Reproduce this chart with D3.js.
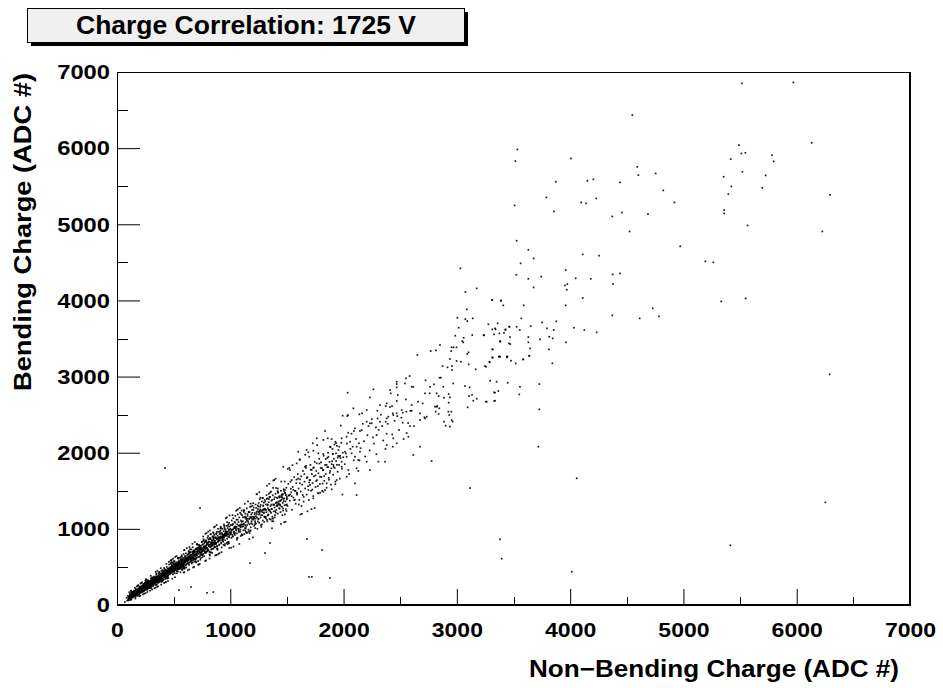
<!DOCTYPE html>
<html><head><meta charset="utf-8">
<script src="https://cdn.jsdelivr.net/npm/d3@7"></script>
<style>body{margin:0;background:#fff}svg{display:block}text{font-family:"Liberation Sans",Arial,Helvetica,sans-serif;font-weight:bold}</style>
</head><body>
<script>
const chartTitle = "Charge Correlation: 1725 V";
const xTitle = "Non\u2212Bending Charge (ADC #)";
const yTitle = "Bending Charge (ADC #)";
const xDomain = [0, 7000];
const yDomain = [0, 7000];
const majorTicks = [0,1000,2000,3000,4000,5000,6000,7000];
const minorTicks = [500,1500,2500,3500,4500,5500,6500];

// Dense core of the correlation (ADC x, ADC y)
const coreBand = [[70,40],[85,95],[90,60],[95,120],[100,80],[105,110],[110,90],[112,140],[118,70],[120,115],[125,130],[128,95],[130,160],[134,110],[136,140],[140,100],[142,125],[145,170],[148,135],[150,115],[152,150],[155,180],[158,130],[160,160],[162,105],[165,145],[167,190],[170,160],[172,130],[174,175],[176,150],[178,200],[180,120],[182,170],[184,145],[186,210],[188,165],[190,185],[192,140],[194,200],[196,170],[198,225],[200,155],[200,190],
[203,210],[205,175],[207,240],[209,195],[211,160],[213,220],[215,185],[217,250],[219,205],[221,170],[223,230],[225,200],[227,260],[229,215],[231,180],[233,245],[235,210],[237,275],[239,225],[241,190],[243,250],[245,220],[247,285],[249,235],[251,200],[253,265],[255,240],[257,210],[259,290],[261,250],[263,225],[265,270],[267,300],[269,245],[271,215],[273,280],[275,255],[277,310],[279,235],[281,270],[283,295],[285,250],[287,225],[289,305],[291,265],[293,285],[295,240],[297,320],[299,275],[301,300],[303,255],[305,330],[307,285],[309,310],[311,260],[313,295],[315,340],[317,275],[319,320],[321,290],[323,350],[325,265],[327,310],[329,335],[331,285],[333,360],[335,300],[337,325],[339,280],[341,350],[343,310],[345,370],[347,295],[349,335],[351,355],[353,305],[355,380],[357,320],[359,345],[361,290],[363,365],[365,330],[367,390],[369,310],[371,350],[373,375],[375,325],[377,400],[379,345],[381,365],[383,315],[385,385],[387,350],[389,410],[391,335],[393,370],[395,395],[397,340],[399,420],
[210,230],[236,190],[262,280],[288,270],[314,305],[340,330],[366,355],[392,380],[224,245],[250,260],[276,240],[302,320],[328,295],[354,340],[380,420],[246,200],[272,295],[298,260],[324,335],[350,315],[376,360],[398,375],[230,205],[256,270],[282,255],[308,340],[334,315],[360,375],[386,340],
[401,380],[404,350],[406,430],[408,395],[411,360],[413,415],[416,385],[418,445],[421,400],[423,365],[426,430],[428,410],[431,460],[433,390],[436,420],[438,375],[441,450],[443,415],[446,475],[448,400],[451,435],[453,385],[456,465],[458,420],[461,490],[463,445],[466,410],[468,470],[471,435],[473,500],[476,455],[478,420],[481,480],[483,445],[486,515],[488,460],[491,425],[493,490],[496,470],[498,530],[501,455],[503,500],[506,435],[508,480],[511,540],[513,495],[516,460],[518,515],[521,475],[523,550],[526,505],[528,445],[531,525],[533,490],[536,560],[538,510],[541,470],[543,535],[546,500],[548,570],[551,520],[553,480],[556,545],[558,505],[561,585],[563,530],[566,490],[568,555],[571,520],[573,595],[576,540],[578,500],[581,565],[583,530],[586,610],[588,550],[591,510],[593,575],[596,540],[598,620],
[410,420],[430,395],[450,455],[470,410],[490,505],[510,470],[530,560],[550,490],[570,580],[590,545],[420,375],[440,440],[460,460],[480,500],[500,490],[520,530],[540,520],[560,550],[580,590],[600,575],[415,440],[445,395],[475,480],[505,520],[535,480],[565,600],[595,560],[425,455],[455,400],[485,470],[515,500],[545,555],[575,525]];

const coreDense = [[120,70],[124,74],[128,78],[132,130],[136,139],[140,165],[144,111],[148,127],[152,164],[156,121],[160,153],[164,162],[168,145],[172,175],[176,163],[180,178],[184,186],[188,129],[192,218],[196,171],[200,213],[204,217],[208,235],[212,209],[216,230],[220,233],[224,183],[228,212],[232,222],[236,208],[240,254],[244,240],[248,262],[252,265],[256,285],[260,314],[264,265],[268,198],[272,326],[276,230],[280,294],[284,265],[288,289],[292,273],[296,310],[300,251],[304,318],[308,339],[312,327],[316,283],[320,269],[324,311],[328,328],[332,364],[336,322],[340,326],[344,262],[348,410],[352,269],[356,301],[360,323],[364,327],[368,353],[372,435],[376,369],[380,358],[384,368],[388,365],[392,304],[396,337],[400,384],[404,404],[408,400],[412,396],[416,485],[420,411],[424,460],[428,419],[432,407],[436,452],[440,377],[444,348],[448,439],[452,355],[456,472],[460,532],[464,420],[468,424],[472,488],[476,550],[480,479],[484,522],[488,561],[492,446],[496,486],[500,539],[504,579],[508,462],[512,484],[516,506],[520,499],[524,475],[528,418],[532,460],[536,615],[540,619],[544,533],[548,546],[552,478],[556,480],[560,509],[564,488],[568,517],[572,653],[576,459],[580,528],[584,506],[588,670],[592,589],[596,476],[600,643],[604,601],[608,585],[612,492],[616,582],[620,596],[624,600],[628,546],[632,676],[636,553],[640,626],[644,732],[648,693],[652,568],[656,620],[660,657],[664,606],[668,758],[672,691],[676,695],[680,654],[684,702],[688,706],[692,604],[696,658],[700,565],[704,797],[708,801],[712,708],[716,578],[720,704],[724,632],[728,776],[732,751],[736,595],[740,760],[744,680],[748,655],[752,658],[756,715],[760,731],[764,862],[768,763],[772,706],[776,827],[780,763],[784,686],[788,838],[792,749],[796,816],[800,732],[804,906],[808,828],[812,864],[816,663],[820,789],[824,928],[828,932],[832,813],[836,732],[840,684],[844,826],[848,954],[852,872],[856,810],[860,754],[864,885],[868,822],[872,799],[876,932],[880,772],[884,877],[888,725],[892,1001],[896,890],[900,852],[904,794],[908,964],[912,892],[916,1029],[920,899],[924,756],[928,851],[932,897],[936,901],[940,919],[944,1059],[948,913],[952,930],[956,934],[960,909],[964,928],[968,961],[972,1088],[976,799],[980,1040],[984,932],[988,810],[992,910],[996,989]];

const coreSpread = [[100,60],[102,96],[104,64],[106,106],[108,168],[110,85],[112,119],[114,114],[116,103],[118,117],[120,155],[122,184],[124,143],[126,188],[128,114],[130,103],[132,118],[134,170],[136,129],[138,144],[140,112],[142,148],[144,137],[146,132],[148,134],[150,189],[152,136],[154,124],[156,176],[158,225],[160,159],[162,85],[164,134],[166,205],[168,207],[170,161],[172,123],[174,243],[176,197],[178,129],[180,186],[182,253],[184,167],[186,256],[188,258],[190,172],[192,213],[194,192],[196,144],[198,115],[200,198],[202,243],[204,170],[206,121],[208,282],[210,232],[212,202],[214,289],[216,206],[218,207],[220,217],[222,297],[224,188],[226,207],[228,139],[230,252],[232,275],[234,177],[236,242],[238,227],[240,147],[242,248],[244,207],[246,291],[248,254],[250,212],[252,156],[254,299],[256,336],[258,338],[260,305],[262,267],[264,225],[266,311],[268,171],[270,248],[272,259],[274,321],[276,236],[278,275],[280,258],[282,269],[284,242],[286,221],[288,223],[290,314],[292,189],[294,299],[296,320],[298,383],[300,349],[302,259],[304,237],[306,292],[308,357],[310,203],[312,362],[314,320],[316,312],[318,249],[320,295],[322,277],[324,373],[326,281],[328,303],[330,219],[332,337],[334,339],[336,321],[338,363],[340,227],[342,435],[344,319],[346,398],[348,333],[350,335],[352,357],[354,238],[356,450],[358,352],[360,354],[362,245],[364,358],[366,419],[368,320],[370,321],[372,345],[374,298],[376,403],[378,329],[380,374],[382,355],[384,378],[386,484],[388,371],[390,267],[392,447],[394,315],[396,345],[398,453],
[400,382],[402,458],[404,324],[406,326],[408,328],[410,438],[412,394],[414,408],[416,289],[418,365],[420,477],[422,403],[424,341],[426,297],[428,374],[430,458],[432,301],[434,350],[436,541],[438,407],[440,499],[442,435],[444,389],[446,361],[448,363],[450,315],[452,444],[454,446],[456,448],[458,566],[460,464],[462,442],[464,444],[466,470],[468,411],[470,412],[472,583],[474,454],[476,537],[478,589],[480,472],[482,462],[484,596],[486,452],[488,346],[490,456],[492,554],[494,402],[496,609],[498,502],[500,478],[502,480],[504,444],[506,569],[508,571],[510,416],[512,365],[514,631],[516,547],[518,509],[520,524],[522,526],[524,515],[526,643],[528,492],[530,494],[532,509],[534,511],[536,540],[538,441],[540,476],[542,608],[544,521],[546,578],[548,539],[550,555],[552,528],[554,620],[556,490],[558,520],[560,522],[562,594],[564,631],[566,570],[568,600],[570,638],[572,534],[574,472],[576,580],[578,568],[580,513],[582,615],[584,480],[586,518],[588,426],[590,485],[592,719],[594,431],[596,723],[598,493],[600,575],[602,591],[604,608],[606,581],[608,678],[610,599],[612,616],[614,618],[616,747],[618,547],[620,579],[622,596],[624,628],[626,457],[628,587],[630,603],[632,704],[634,638],[636,526],[638,467],[640,613],[642,631],[644,617],[646,604],[648,575],[650,654],[652,655],[654,626],[656,730],[658,583],[660,546],[662,618],[664,620],[666,803],[668,624],[670,674],[672,493],[674,710],[676,600],[678,682],[680,499],[682,606],[684,655],[686,826],[688,570],[690,661],[692,574],[694,616],[696,732],[698,653],
[700,736],[703,625],[706,677],[709,696],[712,790],[715,752],[718,529],[721,532],[724,727],[727,730],[730,539],[733,736],[736,689],[739,616],[742,728],[745,732],[748,829],[751,831],[754,628],[757,794],[760,728],[763,844],[766,847],[769,642],[772,758],[775,690],[778,578],[781,935],[784,698],[787,586],[790,945],[793,796],[796,709],[799,882],[802,715],[805,963],[808,720],[811,796],[814,781],[817,610],[820,979],[823,688],[826,865],[829,694],[832,816],[835,782],[838,841],[841,807],[844,791],[847,850],[850,891],[853,941],[856,1020],[859,767],[862,846],[865,1031],[868,650],[871,816],[874,877],[877,659],[880,659],[883,740],[886,742],[889,833],[892,836],[895,671],[898,881],[901,844],[904,680],[907,890],[910,873],[913,1006],[916,1009],[919,821],[922,694],[925,887],[928,930],[931,933],[934,916],[937,838],[940,789],[943,884],[946,1041],[949,911],[952,800],[955,916],[958,960],[961,1139],[964,945],[967,814],[970,1151],[973,934],[976,821],[979,960],[982,827],[985,828],[988,990],[991,749],[994,1176],[997,956]];

const innerBand = [[602,560],[605,640],[608,590],[611,530],[614,610],[617,575],[620,655],[623,600],[626,545],[629,630],[632,585],[635,670],[638,610],[641,560],[644,645],[647,600],[650,690],[653,625],[656,570],[659,660],[662,615],[665,700],[668,640],[671,585],[674,675],[677,630],[680,720],[683,655],[686,600],[689,690],[692,640],[695,735],[698,670],[701,615],[704,705],[707,655],[710,750],[713,685],[716,630],[719,720],[722,670],[725,765],[728,700],[731,640],[734,735],[737,685],[740,780],[743,715],[746,655],[749,750],[752,700],[755,795],[758,730],[761,670],[764,765],[767,715],[770,810],[773,745],[776,685],[779,780],[782,730],[785,825],[788,760],[791,700],[794,795],[797,745],
[610,600],[640,690],[670,560],[700,740],[730,690],[760,720],[790,780],[620,570],[650,640],[680,610],[710,680],[740,660],[770,770],[625,665],[655,595],[685,700],[715,730],[745,700],[775,740],[605,520],[635,705],[665,620],[695,600],[725,790],[755,660],[785,850],
[801,800],[804,720],[808,860],[811,770],[815,700],[818,830],[822,760],[825,880],[829,800],[832,730],[836,850],[839,780],[843,900],[846,820],[850,740],[853,870],[857,790],[860,920],[864,840],[867,760],[871,890],[874,810],[878,940],[881,860],[885,775],[888,910],[892,830],[895,960],[899,880],[902,790],[906,930],[909,850],[913,980],[916,900],[920,810],[923,950],[927,870],[930,1000],[934,920],[937,830],[941,970],[944,890],[948,1020],[951,940],[955,850],[958,990],[962,910],[965,1040],[969,960],[972,870],[976,1010],[979,930],[983,1060],[986,980],[990,890],[993,1030],[997,950],
[810,830],[830,770],[850,900],[870,820],[890,870],[910,940],[930,880],[950,1000],[970,920],[990,1080],[820,880],[840,740],[860,810],[880,960],[900,850],[920,1010],[940,860],[960,970],[980,900],[1000,1000],
[820,650],[760,900],[700,560],[880,1050],[950,780],[640,760],[560,430],[480,560],[400,310],[300,220],[250,320]];

const midDense = [[1010,962],[1018,924],[1026,993],[1034,938],[1042,945],[1050,984],[1058,857],[1066,1120],[1074,974],[1082,1047],[1090,1021],[1098,1029],[1106,1054],[1114,1061],[1122,1247],[1130,981],[1138,1153],[1146,1109],[1154,1134],[1162,1223],[1170,945],[1178,1158],[1186,1076],[1194,1210],[1202,1338],[1210,1134],[1218,1057],[1226,1168],[1234,1195],[1242,1307],[1250,1133],[1258,1237],[1266,1410],[1274,1025],[1282,1221],[1290,1308],[1298,1216],[1306,1264],[1314,1139],[1322,1393],[1330,1308],[1338,1253],[1346,1417],[1354,1226],[1362,1319],[1370,1100],[1378,1538],[1386,1320],[1394,1414],[1402,1214],[1410,1343],[1418,1495],[1426,1336],[1434,1411],[1442,1305],[1450,1621],[1458,1411],[1466,1268],[1474,1496],[1482,1189],[1490,1442]];

const midBand = [[1003,1050],[1006,940],[1010,880],[1013,1110],[1017,990],[1020,1060],[1024,900],[1027,1140],[1031,1010],[1034,960],[1038,1090],[1041,920],[1045,1170],[1048,1030],[1052,980],[1055,1120],[1059,940],[1062,1060],[1066,1190],[1069,1000],[1073,1090],[1076,960],[1080,1150],[1083,1040],[1087,1210],[1090,990],[1094,1110],[1097,1060],[1101,930],[1104,1180],[1108,1030],[1111,1100],[1115,980],[1118,1240],[1122,1070],[1125,1150],[1129,1010],[1132,1200],[1136,1090],[1139,960],[1143,1130],[1146,1270],[1150,1050],[1153,1170],[1157,1100],[1160,990],[1164,1220],[1167,1130],[1171,1060],[1174,1290],[1178,1150],[1181,1020],[1185,1190],[1188,1100],[1192,1250],[1195,1060],[1199,1160],
[1203,1120],[1207,1280],[1211,1040],[1215,1190],[1219,1100],[1223,1320],[1227,1070],[1231,1220],[1235,1150],[1239,1000],[1243,1260],[1247,1130],[1251,1340],[1255,1080],[1259,1200],[1263,1290],[1267,1150],[1271,1050],[1275,1240],[1279,1360],[1283,1180],[1287,1110],[1291,1300],[1295,1210],[1299,1090],[1303,1380],[1307,1250],[1311,1160],[1315,1320],[1319,1220],[1323,1120],[1327,1400],[1331,1270],[1335,1190],[1339,1350],[1343,1240],[1347,1130],[1351,1420],[1355,1300],[1359,1210],[1363,1370],[1367,1260],[1371,1160],[1375,1440],[1379,1320],[1383,1230],[1387,1390],[1391,1280],[1395,1180],[1399,1460],[1403,1340],[1407,1250],[1411,1410],[1415,1300],[1419,1200],[1423,1480],[1427,1360],[1431,1270],[1435,1430],[1439,1320],[1443,1220],[1447,1500],[1451,1380],[1455,1290],[1459,1450],[1463,1340],[1467,1240],[1471,1520],[1475,1400],[1479,1310],[1483,1470],[1487,1360],[1491,1260],[1495,1540],[1499,1420],
[1020,1180],[1060,880],[1100,1240],[1140,1030],[1180,1330],[1220,1010],[1260,1390],[1300,1160],[1340,1460],[1380,1100],[1420,1530],[1460,1180],[1500,1320],[1050,1010],[1090,1050],[1130,1160],[1170,1220],[1210,1150],[1250,1220],[1290,1250],[1330,1320],[1370,1380],[1410,1350],[1450,1420],[1490,1450],
[1505,1300],[1512,1590],[1518,1440],[1525,1370],[1531,1620],[1538,1480],[1544,1250],[1551,1550],[1557,1410],[1564,1680],[1570,1500],[1577,1330],[1583,1600],[1590,1450],[1596,1720],[1603,1530],[1609,1380],[1616,1650],[1622,1490],[1629,1300],[1635,1580],[1642,1760],[1648,1420],[1655,1620],[1661,1530],[1668,1800],[1674,1450],[1681,1680],[1687,1560],[1694,1380],[1700,1640],[1707,1840],[1713,1500],[1720,1720],[1726,1600],[1733,1430],[1739,1690],[1746,1880],[1752,1550],[1759,1760],[1765,1640],[1772,1470],[1778,1730],[1785,1920],[1791,1590],[1798,1800],[1804,1680],[1811,1500],[1817,1770],[1824,1960],[1830,1630],[1837,1840],[1843,1720],[1850,1540],[1856,1810],[1863,2000],[1869,1670],[1876,1880],[1882,1760],[1889,1580],[1895,1850],[1902,2050],[1908,1710],[1915,1920],[1921,1800],[1928,1620],[1934,1890],[1941,2090],[1947,1750],[1954,1960],[1960,1840],[1967,1660],[1973,1930],[1980,2130],[1986,1790],[1993,2000]];

const midSpread = [[1000,928],[1004,932],[1008,752],[1012,983],[1016,1051],[1020,902],[1024,1060],[1028,767],[1032,958],[1036,1028],[1040,1009],[1044,1081],[1048,1017],[1052,1238],[1056,1025],[1060,1248],[1064,883],[1068,1257],[1072,1041],[1076,998],[1080,802],[1084,1277],[1088,962],[1092,906],[1096,1194],[1100,1092],[1104,916],[1108,920],[1112,1152],[1116,1035],[1120,1222],[1124,932],[1128,1329],[1132,1050],[1136,1005],[1140,1132],[1144,948],[1148,952],[1152,1194],[1156,1361],[1160,1076],[1164,964],[1168,866],[1172,1138],[1176,976],[1180,977],[1184,1293],[1188,1153],[1192,1131],[1196,1304],[1200,887],[1204,1249],[1208,1147],[1212,1151],[1216,1207],[1220,1077],[1224,1135],[1228,1274],[1232,1453],[1236,1457],[1240,1231],[1244,1098],[1248,1294],[1252,1188],[1256,1481],[1260,1224],[1264,1255],[1268,1315],[1272,1179],[1276,1239],[1280,1058],[1284,1404],[1288,1407],[1292,1254],[1296,1344],[1300,1263],[1304,1151],[1308,1358],[1312,1158],[1316,1249],[1320,1444],[1324,1566],[1328,1098],[1332,1176],[1336,1180],[1340,1391],[1344,1590],[1348,1249],[1352,1478],[1356,1122],[1360,1489],[1364,1263],[1368,1008],[1372,1134],[1376,1138],[1380,1635],[1384,1313],[1388,1642],[1392,1150],[1396,1231],[1400,1659],[1404,1537],[1408,1305],[1412,1309],[1416,1406],[1420,1475],[1424,1319],[1428,1323],[1432,1423],[1436,1267],[1440,1366],[1444,1370],[1448,1065],[1452,1443],[1456,1414],[1460,1452],[1464,1455],[1468,1393],[1472,1364],[1476,1087],[1480,1622],[1484,1475],[1488,1093],[1492,1315],[1496,1235],
[1500,1389],[1507,1787],[1514,1436],[1521,1800],[1528,1450],[1535,1526],[1542,1428],[1549,1837],[1556,1512],[1563,1376],[1570,1383],[1577,1496],[1584,1647],[1591,1473],[1598,1660],[1605,1321],[1612,1914],[1619,1188],[1626,1691],[1633,1197],[1640,1444],[1647,1358],[1654,1720],[1661,1973],[1668,1828],[1675,1666],[1682,1231],[1689,2005],[1696,1609],[1703,1577],[1710,1778],[1717,1259],[1724,1516],[1731,1801],[1738,1807],[1745,1274],[1752,1702],[1759,1629],[1766,2101],[1773,1560],[1780,1465],[1787,1858],[1794,1474],[1801,1874],[1808,1798],[1815,1595],[1822,2168],[1829,1693],[1836,1509],[1843,1917],[1850,1840],[1857,1931],[1864,1811],[1871,1645],[1878,1738],[1885,2072],[1892,1794],[1899,1888],[1906,1985],[1913,1814],[1920,2108],[1927,1585],[1934,2126],[1941,1841],[1948,1937],[1955,2036],[1962,1952],[1969,1958],[1976,2356],[1983,1881],[1990,1451],[1997,1940]];

const outerBand = [[2086,2583],[1992,2486],[2033,2481],[2139,2504],[1836,2285],[2041,2263],[2092,2285],[2145,2285],[1763,2189],[1728,2124],[1860,2189],[1895,2180],[1927,2144],[1880,2079],[1962,2079],[1983,2189],[2027,2210],[2057,2144],[2080,2079],[2115,2079],[2136,2124],
[1600,2013],[1674,2035],[1733,2026],[1615,1904],[1697,1947],[1777,1992],[1821,1983],[1866,1947],[1904,1983],[1933,1992],[2013,2013],[2027,1947],[2071,1992],[2101,1947],[2145,2013],[2130,1904],
[1468,1816],[1527,1773],[1586,1860],[1659,1816],[1718,1773],[1763,1860],[1821,1773],[1910,1838],[1983,1816],[2042,1773],[2115,1795],[1542,1641],[1615,1598],[1704,1641],[1792,1685],[1851,1598],[1939,1641],[2027,1685],[2101,1598],[1483,1510],[1586,1467],[1689,1510],[1821,1488],[1895,1519],[1498,1401],[1733,1401],[2115,1444],
[2616,1970],[2675,2079],[2572,2210],[2469,2124],[2434,2079],[2381,2101],[2366,1882],[2307,1882],[2204,1882],[2233,1773],[2439,2189],[2557,2258],
[2322,2407],[2381,2451],[2469,2517],[2513,2561],[2601,2626],[2675,2517],[2719,2451],[2822,2604],[2954,2429],[2939,2342],[2822,2780],[2763,2866],[2880,2866],[2968,2910],[2616,2866],[2542,2910],[2469,2932],[2410,2823],[2322,2626],[2204,2561],[2233,2386],[2160,2298],[2292,2232],[2036,2788],[2039,2495],
[2010,1850],[2030,2120],[2050,1720],[2070,2250],[2090,1900],[2110,2180],[2130,1760],[2150,2060],[2170,2380],[2190,1950],[2210,2230],[2230,2030],[2250,2440],[2270,2120],[2290,1980],[2310,2300],[2330,2500],[2350,2160],[2370,2050],[2390,2380],[2410,2600],[2430,2240],[2450,2420],[2470,2680],[2490,2300],[2510,2460],[2530,2180],[2550,2700],[2570,2390],[2590,2550],[2020,1990],[2060,2050],[2100,2320],[2140,1900],[2180,2150],[2220,2350],[2260,2200],[2300,2450],[2340,2350],[2380,2250]];

const upperBand = [[3175,4158],[3075,4110],[3031,4421],[3310,4005],[3387,3995],[3087,3883],[3004,3772],[3075,3755],[3140,3764],[3092,3729],[3016,3641],[3342,3620],[3430,3620],[3462,3655],[3136,3545],[3236,3545],[3416,3575],[2986,3536],[3060,3510],[3048,3466],[3057,3449],[3381,3466],[3460,3436],[2851,3414],[2816,3344],[2769,3335],[2651,3283],[2953,3384],[2971,3384],[2997,3384],[2950,3335],[3103,3318],[3091,3296],[3316,3357],[3381,3260],[3443,3252],[3316,3247],[2939,3230],[2998,3204],[3036,3195],[3290,3187],[2874,3138],[2918,3121],[2957,3138],[2957,3086],[3104,3160],[3166,3095],[3257,3129],[2583,3007],[2551,2977],[2724,2950],[2847,2985],[2859,2985],[2798,2898],[3294,2945],[3351,2932],[3449,2919],[3366,2810],[2263,2832],[2233,2727],[2469,2902],[2469,2858],[2416,2780],[2478,2757],[2601,2866],[2719,2780],[2760,2780],[2839,2744],[2928,2770],[2886,2722],[2939,2727],[3072,2876],[3113,2858],[3134,2761],[3107,2744],[3175,2709],[3145,2683],[3095,2596],[3257,2670],[3330,2679],[3337,2788],[2298,2551],[2372,2613],[2381,2648],[2434,2517],[2428,2613],[2601,2551],[2554,2539],[2657,2670],[2698,2648],[2807,2604],[2827,2613],[2845,2583],[2928,2657],[2925,2539],[2951,2539],[2933,2495],[2163,2517],[2204,2407],[2248,2386],[2286,2333],[2395,2473],[2372,2407],[2439,2495],[2474,2481],[2522,2526],[2522,2395],[2586,2350],[2622,2350],[2713,2464],[2734,2473],[2675,2429],[2813,2539],[2886,2407],[2901,2355],[2963,2407],[2839,2508],
[3843,3174],[3557,2866],[3551,2766],[3728,2902],[3328,2793],[3263,2670],[3337,2683],[3248,3138],[3287,3195],[3372,3260],[3445,3260],[3478,3208],[3519,3173],[3586,3225],[3639,3273],
[3466,3654],[3528,3654],[3555,3611],[3652,3663],[3428,3611],[3469,3519],[3472,3427],[3384,3457],[3313,3620],[3337,3633],[3278,3686],[3360,3699],[3240,3541],[3328,3554],[3375,3567],[3313,3357],[3313,3252],[3375,3265],[3445,3265],[3586,3226]];

const sparseHigh = [[5517,6850],[5970,6863],[4549,6434],[3534,5983],[3516,5830],[4008,5865],[5490,6040],[5512,5930],[5547,5939],[5417,5856],[5782,5908],[5797,5826],[6132,6070],[4593,5755],[4602,5646],[4755,5668],[3873,5558],[4152,5571],[4205,5590],[4440,5550],[5355,5624],[5520,5690],[5726,5642],[5423,5497],[5396,5396],[5696,5479],[6294,5387],[3790,5353],[4098,5287],[4140,5274],[4231,5340],[4822,5445],[4920,5287],[3510,5248],[3857,5169],[4372,5103],[4458,5155],[4687,5134],[5360,5186],[5360,5143],[4525,4906],[5566,4985],[6226,4906],[3528,4784],[3631,4665],[3678,4552],[3563,4487],[4972,4710],[4111,4605],[4255,4587],[5193,4513],[5264,4500],[3525,4337],[3631,4284],[3745,4311],[3678,4171],[3961,4399],[4049,4290],[4182,4284],[3954,4197],[3975,4215],[3970,4140],[4375,4342],[4440,4355],[4378,4215],[5334,3987],[5549,4027],[3313,4009],[3390,4000],[3410,3935],[3590,3935],[3961,3935],[4111,4031],[3569,3764],[3752,3712],[3878,3725],[4372,3804],[4729,3896],[4785,3791],[4614,3764],[4034,3641],[4125,3611],[4234,3581],[3796,3633],[3855,3611],[3816,3523],[3846,3502],[3734,3489],[3963,3450],[3813,3357],[3631,3519],[3631,3450],[3646,3370],[3640,3274]];

const strayLow = [[424,1800],[850,170],[795,160],[1174,550],[1306,683],[1810,722],[1695,368],[1880,355],[1677,867],[653,236],[547,197],[733,1274],[1350,814],[2777,1891],[3116,1536],[4058,1664],[3381,863],[3396,608],[4014,437],[5414,784],[6253,1348],[6291,3029],[3728,2570],[3719,2079],[1720,370]];

const W = 943, H = 688;
const svg = d3.select("body").append("svg").attr("width", W).attr("height", H);
const x = d3.scaleLinear().domain(xDomain).range([117, 910]);
const y = d3.scaleLinear().domain(yDomain).range([605, 72]);

// Title box with shadow
svg.append("rect").attr("x", 31).attr("y", 12).attr("width", 437).attr("height", 34).attr("fill", "#000");
svg.append("rect").attr("x", 27.5).attr("y", 8.5).attr("width", 437).attr("height", 34).attr("fill", "#f0f0f0").attr("stroke", "#000").attr("stroke-width", 1);
svg.append("text").attr("x", 246).attr("y", 34).attr("text-anchor", "middle").attr("font-size", 25).attr("fill", "#000")
  .attr("textLength", 340).attr("lengthAdjust", "spacingAndGlyphs").text(chartTitle);

// Frame
svg.append("rect").attr("x", 117.5).attr("y", 72.5).attr("width", 792).attr("height", 532).attr("fill", "#fff").attr("stroke", "#000").attr("stroke-width", 1);
svg.append("line").attr("x1", 910.5).attr("x2", 910.5).attr("y1", 72).attr("y2", 606).attr("stroke", "#000");
svg.append("line").attr("x1", 117).attr("x2", 911).attr("y1", 605.5).attr("y2", 605.5).attr("stroke", "#000");

// Points
const allPoints = [].concat(coreBand, coreDense, coreSpread, innerBand, midDense, midBand, midSpread, outerBand, upperBand, sparseHigh, strayLow);
svg.append("g").selectAll("rect").data(allPoints).join("rect")
  .attr("x", d => x(d[0]) - 0.85).attr("y", d => y(d[1]) - 0.85)
  .attr("width", 1.7).attr("height", 1.7).attr("fill", "#000").attr("fill-opacity", 0.9);

// Axes
const xAxis = d3.axisBottom(x).tickValues(majorTicks).tickFormat(d3.format("d")).tickSizeInner(-16).tickSizeOuter(0).tickPadding(17);
const gx = svg.append("g").attr("transform", "translate(0,605)").call(xAxis);
gx.select(".domain").remove();
gx.selectAll(".tick line").attr("stroke", "#000");
gx.selectAll(".tick text").attr("font-size", 21).attr("fill", "#000")
  .attr("textLength", d => String(d).length * 12.8).attr("lengthAdjust", "spacingAndGlyphs");
svg.append("g").attr("transform", "translate(0,605)").selectAll("line").data(minorTicks).join("line")
  .attr("x1", d => Math.round(x(d)) + 0.5).attr("x2", d => Math.round(x(d)) + 0.5).attr("y1", 0).attr("y2", -8).attr("stroke", "#000");

const yAxis = d3.axisLeft(y).tickValues(majorTicks).tickFormat(d3.format("d")).tickSizeInner(-23).tickSizeOuter(0).tickPadding(7);
const gy = svg.append("g").attr("transform", "translate(117,0)").call(yAxis);
gy.select(".domain").remove();
gy.selectAll(".tick line").attr("stroke", "#000");
gy.selectAll(".tick text").attr("font-size", 21).attr("fill", "#000")
  .attr("textLength", d => String(d).length * 13.2).attr("lengthAdjust", "spacingAndGlyphs");
svg.append("g").attr("transform", "translate(117,0)").selectAll("line").data(minorTicks).join("line")
  .attr("y1", d => Math.round(y(d)) + 0.5).attr("y2", d => Math.round(y(d)) + 0.5).attr("x1", 0).attr("x2", 11).attr("stroke", "#000");

// Axis titles
svg.append("text").attr("x", 899).attr("y", 677).attr("text-anchor", "end").attr("font-size", 24).attr("fill", "#000")
  .attr("textLength", 370).attr("lengthAdjust", "spacingAndGlyphs").text(xTitle);
svg.append("text").attr("transform", "translate(31,73) rotate(-90)").attr("text-anchor", "end").attr("font-size", 24).attr("fill", "#000")
  .attr("textLength", 318).attr("lengthAdjust", "spacingAndGlyphs").text(yTitle);
</script>
</body></html>
